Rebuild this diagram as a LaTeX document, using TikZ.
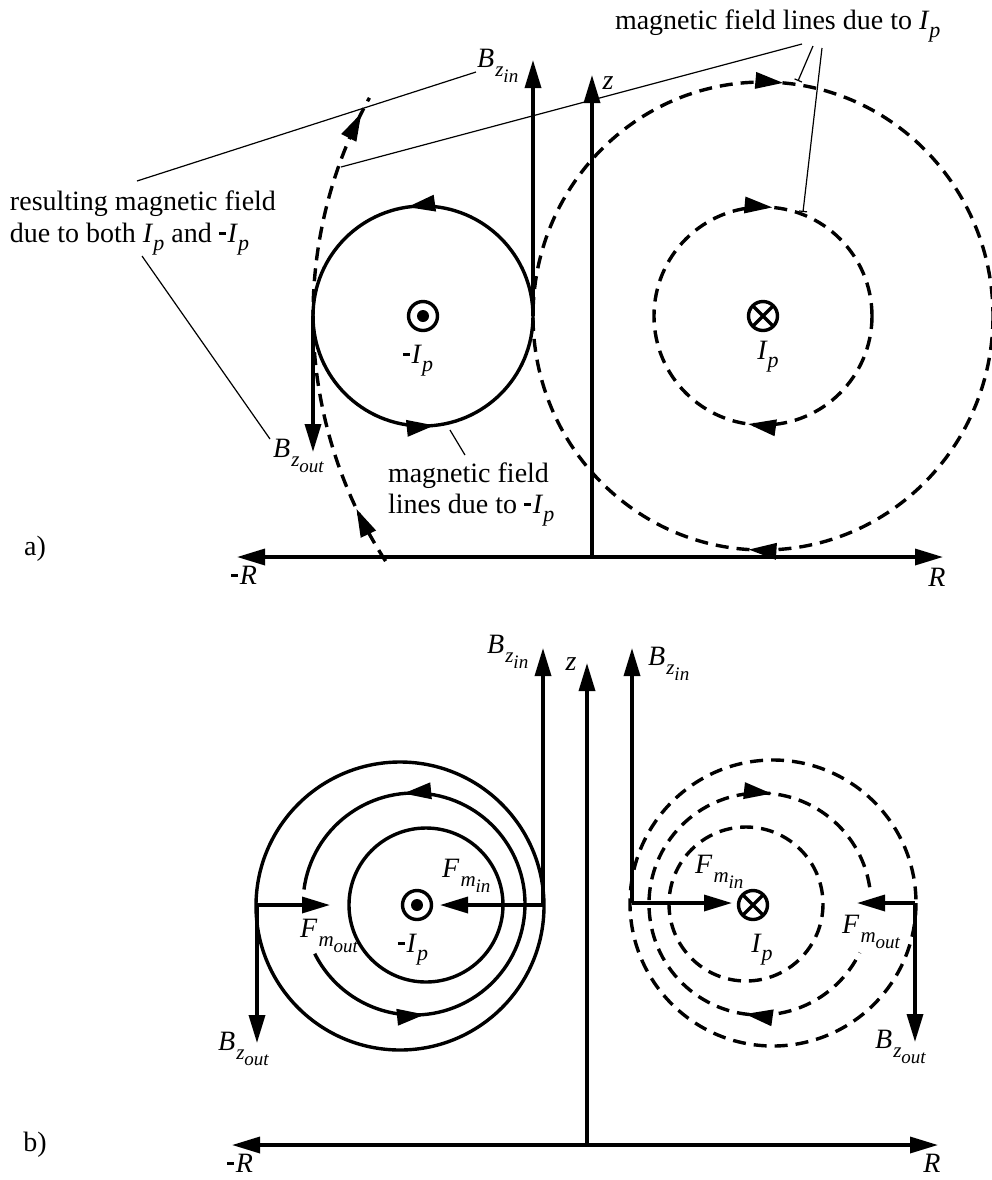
\documentclass[tikz,border=0pt]{standalone}
\usepackage{fontspec}
\setmainfont{Liberation Serif}
\usetikzlibrary{arrows.meta,decorations.markings}

\newcommand{\isub}[2]{\textit{#1}\raisebox{-4.3pt}{\fontsize{11}{11}\selectfont\textit{#2}}}
\newcommand{\isubsub}[3]{\textit{#1}\kern0.6pt\raisebox{-4.5pt}{\fontsize{10.5}{10.5}\selectfont\textit{#2}\raisebox{-3pt}{\fontsize{9.5}{9.5}\selectfont\textit{#3}}}}
\newcommand{\mn}{\rule[3.3pt]{3.6pt}{1.5pt}\kern0.8pt}

\tikzset{
  fwd/.style={postaction={decorate, decoration={markings, mark=at position #1 with {\arrow{Triangle[length=14pt,width=8pt]}}}}},
  bwd/.style={postaction={decorate, decoration={markings, mark=at position #1 with {\arrowreversed{Triangle[length=14pt,width=8pt]}}}}},
  axisline/.style={line width=1.7pt, -{Triangle[length=14pt,width=8pt]}},
  vecline/.style={line width=1.7pt, -{Triangle[length=14pt,width=8pt]}},
  solidline/.style={line width=1.7pt},
  dashline/.style={line width=1.7pt, dash pattern=on 6.5pt off 4pt},
  leader/.style={line width=0.6pt},
  barleader/.style={line width=0.6pt, -{Bar[width=4pt]}},
  ring/.style={draw, circle, line width=1.7pt, minimum size=14.5pt},
}

\begin{document}
\begin{tikzpicture}[x=0.5pt,y=-0.5pt,
  every node/.style={inner sep=0pt, outer sep=0pt, font=\fontsize{14}{16.5}\selectfont}]
\useasboundingbox (0,0) rectangle (992,1180);

% ================= a) =================
\coordinate (Oa) at (592,557);
\coordinate (Ra) at (943,557);
\coordinate (mRa) at (237,557);
\coordinate (za) at (592,75);
\draw[axisline] (Oa) -- (Ra);
\draw[axisline] (Oa) -- (mRa);
\draw[axisline] (Oa) -- (za);

\coordinate (C1) at (423,316);
\coordinate (C2) at (763,316);
% field of -Ip (solid, counter-clockwise)
\draw[solidline, bwd=0.727, bwd=0.233] (C1) circle[radius=110];
% field of Ip (dashed, clockwise)
\draw[dashline, fwd=0.764, fwd=0.260] (C2) ellipse[x radius=230, y radius=234];
\draw[dashline, fwd=0.764, fwd=0.272] (C2) circle[radius=109];
% resulting field
\draw[dashline, fwd=0.123, fwd=0.965] ([shift={(147:450)}]C2) arc[start angle=147, end angle=209, radius=450];

% B_z vectors
\coordinate (TinA) at (533,316);
\coordinate (BinA) at (533,60);
\coordinate (ToutA) at (313,316);
\coordinate (BoutA) at (313,452);
\draw[vecline] (TinA) -- (BinA);
\draw[vecline] (ToutA) -- (BoutA);

% current symbols
\node[ring] (dotA) at (C1) {};
\fill (dotA.center) circle[radius=6];
\node[ring] (crossA) at (C2) {};
\draw[line width=1.7pt] (crossA.45) -- (crossA.225) (crossA.135) -- (crossA.315);

% labels a)
\node[anchor=base west] (lBinA) at (477,67) {\isubsub{B}{z}{in}};
\node[anchor=base west] (lBoutA) at (273,457) {\isubsub{B}{z}{out}};
\node[anchor=base] (lzA) at (608,89) {\textit{z}};
\node[anchor=base] (lmIpA) at (418,363) {\mn\isub{I}{p}};
\node[anchor=base] (lIpA) at (768,359) {\isub{I}{p}};
\node[anchor=base] (lRA) at (937,586) {\textit{R}};
\node[anchor=base] (lmRA) at (244,584) {\mn\textit{R}};
\node[anchor=base] (la) at (35,555) {a)};
\node[anchor=base west] (lres1) at (10,210) {resulting magnetic field};
\node[anchor=base west] (lres2) at (10,242) {due to both \isub{I}{p} and \mn\isub{I}{p}};
\node[anchor=base west] (lfm1) at (388,482) {magnetic field};
\node[anchor=base west] (lfm2) at (388,513) {lines due to \mn\isub{I}{p}};
\node[anchor=base west] (lfp) at (615,29) {magnetic field lines due to \isub{I}{p}};

% leader lines a)
\coordinate (L1s) at (137,181);  \coordinate (L1e) at (476,72);
\coordinate (L2s) at (341,167);  \coordinate (L2e) at (802,44);
\coordinate (L3s) at (813,46);   \coordinate (L3e) at (798,81);
\coordinate (L4s) at (822,48);   \coordinate (L4e) at (803,212);
\coordinate (L5s) at (142,256);  \coordinate (L5e) at (270,439);
\coordinate (L6s) at (450,430);  \coordinate (L6e) at (465,455);
\draw[leader] (L1s) -- (L1e);
\draw[leader] (L2s) -- (L2e);
\draw[barleader] (L3s) -- (L3e);
\draw[barleader] (L4s) -- (L4e);
\draw[leader] (L5s) -- (L5e);
\draw[leader] (L6s) -- (L6e);

% ================= b) =================
\coordinate (Ob) at (587,1145);
\coordinate (Rb) at (938,1145);
\coordinate (mRb) at (232,1145);
\coordinate (zb) at (587,663);
\draw[axisline] (Ob) -- (Rb);
\draw[axisline] (Ob) -- (mRb);
\draw[axisline] (Ob) -- (zb);

% left (-Ip) solid field lines
\coordinate (C3o) at (400,906);
\coordinate (C3m) at (414,904);
\coordinate (C3i) at (426,905);
\draw[solidline] (C3o) circle[radius=144];
\draw[solidline, bwd=0.236, bwd=0.788] ([shift={(-172.5:111)}]C3m) arc[start angle=-172.5, end angle=153.4, radius=111];
\draw[solidline] (C3i) circle[radius=77];

% right (Ip) dashed field lines
\coordinate (C4o) at (773,903);
\coordinate (C4m) at (760,904);
\coordinate (C4i) at (746,904);
\draw[dashline] (C4o) circle[radius=143];
\draw[dashline, bwd=0.231, bwd=0.779] ([shift={(-8.7:111)}]C4m) arc[start angle=-8.7, end angle=-334, radius=111];
\draw[dashline] (C4i) circle[radius=77];

% current symbols b)
\node[ring] (dotB) at (417,905) {};
\fill (dotB.center) circle[radius=6];
\node[ring] (crossB) at (753,905) {};
\draw[line width=1.7pt] (crossB.45) -- (crossB.225) (crossB.135) -- (crossB.315);

% vectors b) left
\coordinate (PinL) at (543,905);
\coordinate (BinL) at (543,648);
\coordinate (FinL) at (440,905);
\coordinate (PoutL) at (257,905);
\coordinate (BoutL) at (257,1043);
\coordinate (FoutL) at (330,905);
\draw[vecline] (PinL) -- (BinL);
\draw[vecline] (PinL) -- (FinL);
\draw[vecline] (PoutL) -- (FoutL);
\draw[vecline] (PoutL) -- (BoutL);

% vectors b) right
\coordinate (PinR) at (632,903);
\coordinate (BinR) at (632,648);
\coordinate (FinR) at (732,903);
\coordinate (PoutR) at (915,903);
\coordinate (BoutR) at (915,1042);
\coordinate (FoutR) at (857,903);
\draw[vecline] (PinR) -- (BinR);
\draw[vecline] (PinR) -- (FinR);
\draw[vecline] (PoutR) -- (FoutR);
\draw[vecline] (PoutR) -- (BoutR);

% labels b)
\node[anchor=base west] (lBinL) at (487,653) {\isubsub{B}{z}{in}};
\node[anchor=base] (lzB) at (571,670) {\textit{z}};
\node[anchor=base west] (lBinR) at (648,665) {\isubsub{B}{z}{in}};
\node[anchor=base west] (lFinL) at (442,877) {\isubsub{F}{m}{in}};
\node[anchor=base west] (lFoutL) at (300,937) {\isubsub{F}{m}{out}};
\node[anchor=base west] (lFinR) at (695,873) {\isubsub{F}{m}{in}};
\node[anchor=base west] (lFoutR) at (842,933) {\isubsub{F}{m}{out}};
\node[anchor=base] (lmIpB) at (413,952) {\mn\isub{I}{p}};
\node[anchor=base] (lIpB) at (762,952) {\isub{I}{p}};
\node[anchor=base west] (lBoutL) at (218,1050) {\isubsub{B}{z}{out}};
\node[anchor=base west] (lBoutR) at (875,1048) {\isubsub{B}{z}{out}};
\node[anchor=base] (lb) at (35,1151) {b)};
\node[anchor=base] (lmRB) at (240,1172) {\mn\textit{R}};
\node[anchor=base] (lRB) at (932,1172) {\textit{R}};
\end{tikzpicture}
\end{document}
